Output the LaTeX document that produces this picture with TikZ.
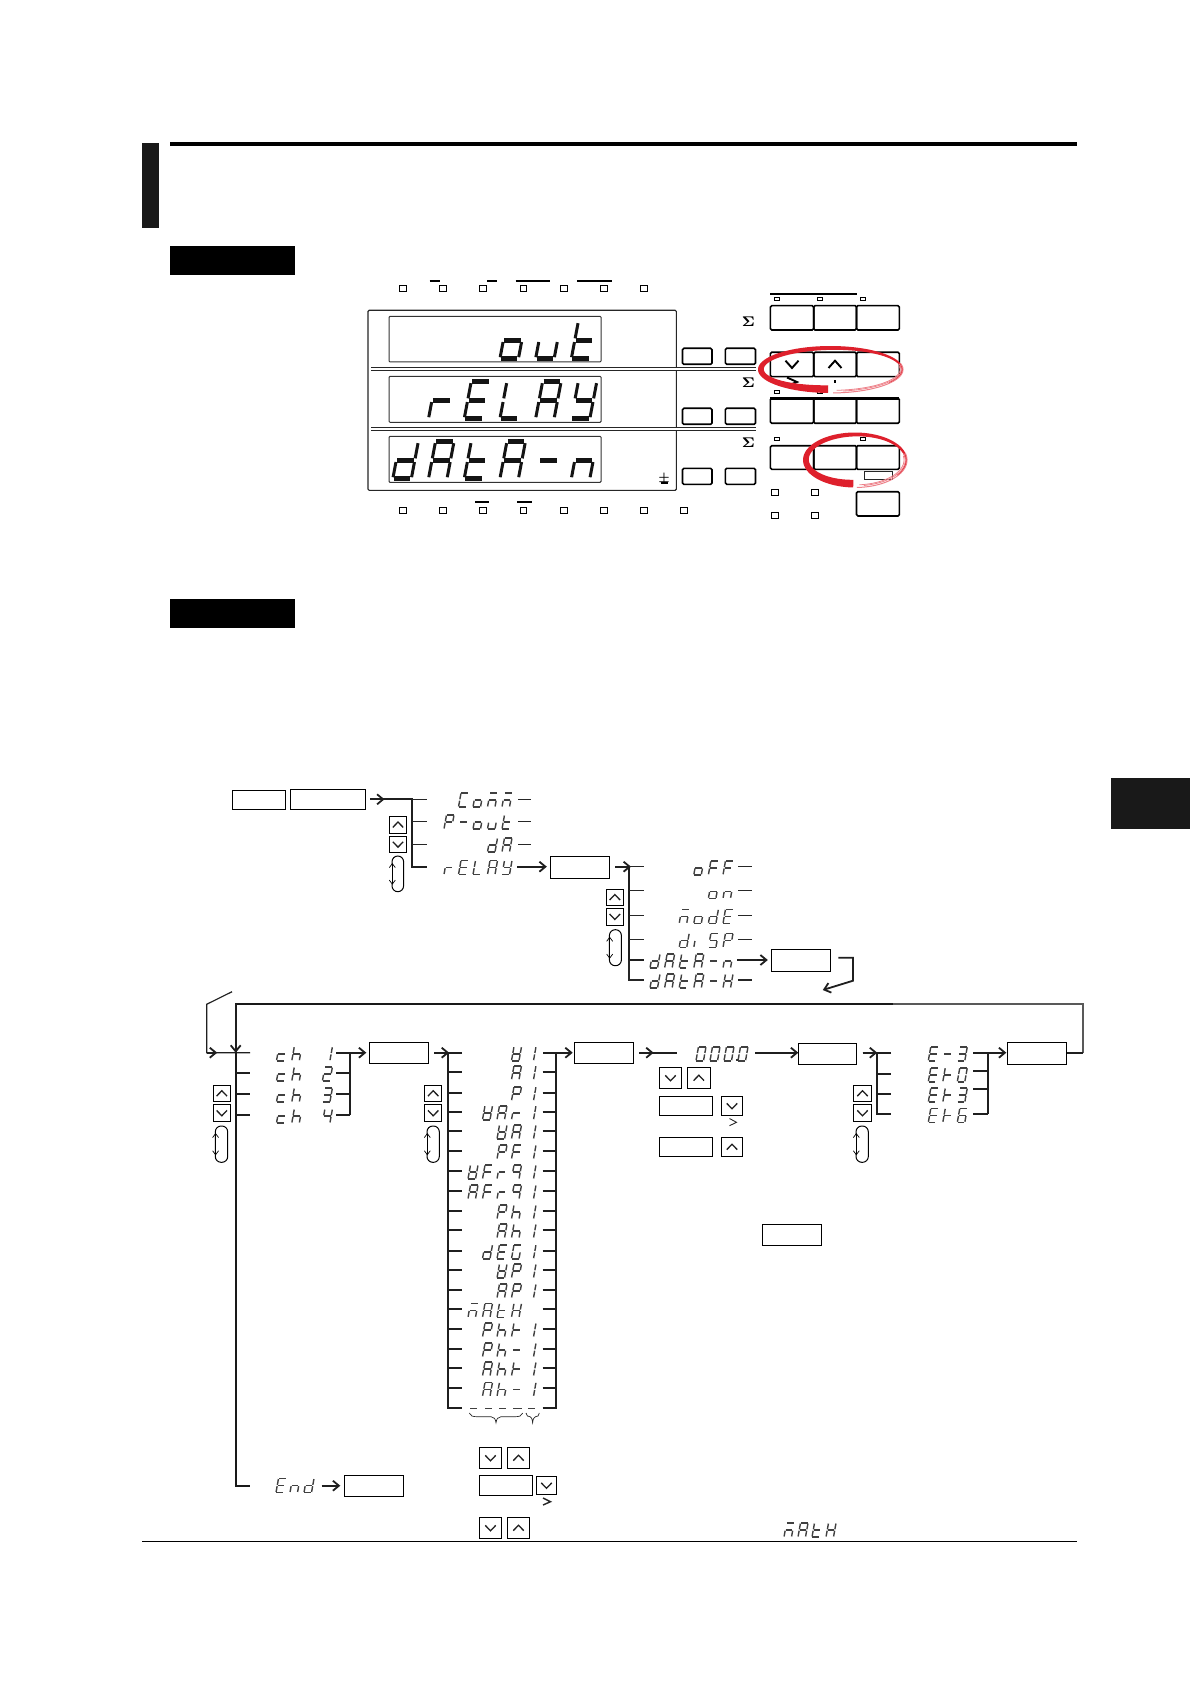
\documentclass[tikz,border=0pt]{standalone}
\usetikzlibrary{arrows.meta}
% ---------- seven-segment glyphs ----------
\newcommand\segdraw[5]{\draw[line width=#5,color=\segcol] ({\cx+#1*\sw+#2*\ss},{\cy-#2*\sh}) -- ({\cx+#3*\sw+#4*\ss},{\cy-#4*\sh});}
\def\sega{\segdraw{.05}{1}{.95}{1}{\lh}}
\def\segb{\segdraw{1}{.96}{1}{.55}{\lv}}
\def\segc{\segdraw{1}{.45}{1}{.04}{\lv}}
\def\segd{\segdraw{.05}{0}{.95}{0}{\lh}}
\def\sege{\segdraw{0}{.04}{0}{.45}{\lv}}
\def\segf{\segdraw{0}{.55}{0}{.96}{\lv}}
\def\segg{\segdraw{.05}{.5}{.95}{.5}{\lh}}
\def\segx{}
\newcommand\gl[2]{\expandafter\def\csname glyph#1\endcsname{#2}}
\gl{:}{x}\gl{-}{g}
\gl{A}{a,b,c,e,f,g}\gl{C}{a,d,e,f}\gl{E}{a,d,e,f,g}\gl{F}{a,e,f,g}\gl{G}{a,c,d,e,f}
\gl{H}{b,c,e,f,g}\gl{L}{d,e,f}\gl{M}{a,c,e,g}\gl{P}{a,b,e,f,g}\gl{S}{a,c,d,f,g}
\gl{T}{e,f,g}\gl{V}{b,c,d,e,f,g}\gl{Y}{b,c,d,f,g}
\gl{c}{d,e,g}\gl{d}{b,c,d,e,g}\gl{h}{c,e,f,g}\gl{i}{e}\gl{n}{c,e,g}\gl{o}{c,d,e,g}
\gl{q}{a,b,c,f,g}\gl{r}{e,g}\gl{t}{d,e,f,g}\gl{u}{c,d,e}
\gl{0}{a,b,c,d,e,f}\gl{1}{b,c}\gl{2}{a,b,d,e,g}\gl{3}{a,b,c,d,g}\gl{4}{b,c,f,g}\gl{6}{a,c,d,e,f,g}
% left of first cell, bottom, pitch, chars
\newcommand\SegT[4]{\foreach \ch [count=\ci from 0] in {#4}{%
  \pgfmathsetmacro\cx{#1+\ci*#3}\def\cy{#2}%
  \expandafter\let\expandafter\curlist\csname glyph\ch\endcsname
  \foreach \s in \curlist {\csname seg\s\endcsname}}}
\newcommand\smallseg{\def\sw{7.5}\def\ss{2.5}\def\sh{14}\def\lh{.8pt}\def\lv{.7pt}\def\segcol{black!75}}
\newcommand\lcdseg{\def\sw{18.5}\def\ss{7}\def\sh{37}\def\lh{2.4pt}\def\lv{1.5pt}\def\segcol{black!92}}
% ---------- helpers ----------
\newcommand\bx[6][box]{\node[#1,minimum width={(#5-#3)*.5pt},minimum height={(#6-#4)*.5pt}] (#2) at ({(#3+#5)/2},{(#4+#6)/2}) {};}
\newcommand\kup[5]{\bx{#1}{#2}{#3}{#4}{#5}\draw[chev] ([shift={(-2.6pt,-1.3pt)}]#1.center) -- ([shift={(0pt,1.4pt)}]#1.center) -- ([shift={(2.6pt,-1.3pt)}]#1.center);}
\newcommand\kdn[5]{\bx{#1}{#2}{#3}{#4}{#5}\draw[chev] ([shift={(-2.6pt,1.3pt)}]#1.center) -- ([shift={(0pt,-1.4pt)}]#1.center) -- ([shift={(2.6pt,1.3pt)}]#1.center);}
\newcommand\ovl[5]{\bx[ovalbox]{#1}{#2}{#3}{#4}{#5}
  \draw[white,line width=.9pt] ({#2+.3},{#3+8}) -- ({#2+.3},{#5-8});
  \draw[dbl] ({#2+.3},{#3+7}) -- ({#2+.3},{#5-7});}
\newcommand\led[2]{\draw[ledstyle] ({#1-3.3},{#2-3}) rectangle ({#1+3.3},{#2+3});}
\newcommand\sled[2]{\draw[ledstyle] ({#1-2.8},{#2-1.8}) rectangle ({#1+2.8},{#2+1.8});}
\newcommand\redring[5]{% cx cy a b thickness
  \fill[ringred] plot[domain=92:395,samples=90] ({#1+#3*cos(\x)},{#2+#4*sin(\x)})
    -- plot[domain=395:92,samples=90] ({#1+(#3-1.2-#5*(395-\x)/303)*cos(\x)},{#2+(#4-1.2-#5*(395-\x)/303)*sin(\x)}) -- cycle;
  \draw[ringpink,line width=.5pt] plot[domain=345:448,samples=30] ({#1+(#3)*cos(\x)},{#2+(#4)*sin(\x)});
  \draw[ringpink,line width=.4pt] plot[domain=345:440,samples=30] ({#1+(#3-1.6)*cos(\x)},{#2+(#4-1.6)*sin(\x)});
  \draw[ringpink,line width=.4pt] plot[domain=350:445,samples=30] ({#1+(#3-3)*cos(\x)},{#2+(#4-2.6)*sin(\x)});}
\definecolor{ringred}{RGB}{222,32,44}
\definecolor{ringpink}{RGB}{238,130,138}
\tikzset{
  box/.style={draw=black,line width=.5pt,inner sep=0pt,outer sep=0pt,fill=white},
  ovalbox/.style={box,rounded corners=2.9pt},
  chev/.style={line width=.65pt,black!88},
  dbl/.style={line width=.35pt,{Straight Barb[length=2pt,width=3pt]}-{Straight Barb[length=2pt,width=3pt]}},
  conn/.style={line width=.9pt,black!88},
  thinc/.style={line width=.55pt,black!85},
  arr/.style={conn,-{Straight Barb[length=3pt,width=5pt]}},
  ledstyle/.style={draw=black,line width=.45pt},
  pbtn/.style={draw=black,line width=.8pt,rounded corners=.7pt,inner sep=0pt,outer sep=0pt},
  lcd/.style={draw=black!80,line width=.5pt,rounded corners=.5pt,inner sep=0pt,outer sep=0pt},
  panelb/.style={draw=black!85,line width=.55pt,rounded corners=.6pt,inner sep=0pt,outer sep=0pt},
  sharpb/.style={draw=black!85,line width=.5pt,inner sep=0pt,outer sep=0pt},
  dline/.style={double=white,double distance=.9pt,line width=.4pt,black!85},
  sigma/.style={inner sep=0pt,font=\fontsize{7.5}{8}\selectfont\boldmath},
}
\begin{document}
\begin{tikzpicture}[x=.5pt,y=-.5pt]
\useasboundingbox (0,0) rectangle (1190,1684);
\fill[white] (0,0) rectangle (1190,1684);
% ---------- page furniture ----------
\fill[black!90] (142,143.3) rectangle (159,228);
\fill[black] (170,142) rectangle (1077,146);
\fill[black] (170,246) rectangle (295,275);
\fill[black] (170,599) rectangle (295,628);
\fill[black!90] (1110.5,777.6) rectangle (1190,829);
\draw[black,line width=.55pt] (142,1541.3) -- (1077,1541.3);
% ---------- instrument panel ----------
\foreach \x in {403,443,483,523.4,564,604,644} {\led{\x}{288.7}}
\foreach \a/\b in {429.5/439.7,487/497,515.7/550,577/612} {\draw[black,line width=.9pt] (\a,280.7) -- (\b,280.7);}
\bx[panelb]{panel}{368}{310.3}{676.4}{490.3}
\bx[lcd]{lcdA}{389}{316.3}{601}{362}
\bx[lcd]{lcdB}{389}{376.3}{601}{422.3}
\bx[lcd]{lcdC}{389}{436.3}{601}{482.3}
\lcdseg
\SegT{392.8}{358.7}{35.7}{:,:,:,o,u,t}
\SegT{392.8}{418.7}{35.7}{:,r,E,L,A,Y}
\SegT{392.8}{478.7}{35.7}{d,A,t,A,-,n}
\draw[dline] (371,369) -- (755.5,369);
\draw[dline] (371,429) -- (755.5,429);
\foreach \y [count=\k] in {348.3,408.3,468.3} {
  \bx[pbtn]{pa\k}{682.5}{\y}{712}{\y+16}
  \bx[pbtn]{pb\k}{725.4}{\y}{755.5}{\y+16}
}
\node[sigma] (sgA) at (748.4,322) {$\Sigma$};
\node[sigma] (sgB) at (748.4,383) {$\Sigma$};
\node[sigma] (sgC) at (748.4,443) {$\Sigma$};
\node[inner sep=0pt,font=\fontsize{5}{6}\selectfont\boldmath] (pm) at (664,478.7) {$\pm$};
\draw[black,line width=.8pt] (660.5,482.8) -- (667.5,482.8);
\draw[black,line width=.9pt] (770.3,293.7) -- (856.5,293.7);
\foreach \x in {777,820,863} {\sled{\x}{299}}
\sled{777}{392}\sled{820}{392}
\sled{777}{439}\sled{863}{439}
\foreach \ya/\yb [count=\k] in {305.7/330,352.3/376.7,398.3/423.3,445.7/469.3} {
  \bx[pbtn]{ka\k}{770.3}{\ya}{813.7}{\yb}
  \bx[pbtn]{kb\k}{813.7}{\ya}{856.5}{\yb}
  \bx[pbtn]{kc\k}{856.5}{\ya}{899.4}{\yb}
}
\draw[black,line width=1.7pt] (770.3,398.3) -- (899.4,398.3);
\bx[pbtn]{kbig}{856.5}{491.7}{899.4}{516}
\bx[sharpb]{ksm}{864.7}{471.7}{892.8}{479.3}
\led{775}{492.3}\led{815}{492.3}\led{775}{515}\led{815}{515}
\foreach \x in {403,443,483,523.4,564,604,644,684} {\led{\x}{510.3}}
\foreach \a/\b in {475/489,517/531.6} {\draw[black,line width=.9pt] (\a,501.7) -- (\b,501.7);}
\draw[line width=.95pt,black] (785.5,360.7) -- (792,368) -- (798.5,360.7);
\draw[line width=.95pt,black] (828.5,368) -- (835,360.7) -- (841.5,368);
\draw[line width=.95pt,black] (787,377.5) -- (797,382) -- (787,386);
\fill[black] (833.6,380.5) rectangle (836.4,383.5);
\redring{830.5}{369.5}{72.5}{23.5}{6.5}
\redring{855}{460}{52}{27.5}{6.5}
% ---------- first menu ----------
\bx{mA}{232}{790}{285.7}{809.3}
\bx{mB}{290.6}{789}{365.6}{809.3}
\coordinate (tr1a) at (411.6,799.3);
\coordinate (tr1b) at (411.6,866.7);
\draw[conn] ([xshift=2.2pt]mB.east |- tr1a) -- (tr1a) -- (tr1b) -- (427,866.7);
\draw[arr] ([xshift=2.2pt]mB.east |- tr1a) -- ++(14.5,0);
\foreach \y in {799.3,821.3,844.3} {\draw[thinc] (411.6,\y) -- (426.8,\y);}
\foreach \y in {799.3,821.3,844.3} {\draw[thinc] (518,\y) -- (531,\y);}
\kup{upA}{389.3}{816.3}{406.7}{833.3}
\kdn{dnA}{389.3}{836}{406.7}{852.7}
\ovl{ovA}{392}{856}{403.6}{891.7}
\smallseg
\SegT{444}{807}{14.5}{:,C,o,M,M}
\SegT{444}{829}{14.5}{P,-,o,u,t}
\SegT{444}{852}{14.5}{:,:,:,d,A}
\SegT{444}{874.5}{14.5}{r,E,L,A,Y}
\coordinate (lbRelay) at (517,866.7);
\bx{bRelay}{550.4}{856.3}{609.4}{878.7}
\draw[arr,shorten >=1.8pt] (lbRelay) -- (bRelay.west |- lbRelay);
% ---------- second menu ----------
\coordinate (tr2a) at (629,866.7);
\coordinate (tr2b) at (629,960);
\coordinate (tr2c) at (629,980);
\draw[conn] ([xshift=2.8pt]bRelay.east |- tr2a) -- (tr2a) -- (tr2b) -- (644,960);
\draw[arr] ([xshift=2.8pt]bRelay.east |- tr2a) -- ++(16,0);
\draw[thinc] (tr2b) -- (tr2c) -- (644,980);
\foreach \y in {866.7,890.3,915.3,939.3} {\draw[thinc] (629,\y) -- (644,\y);}
\foreach \y in {866.7,890.3,915.3,939.3,980} {\draw[thinc] (738.4,\y) -- (751.8,\y);}
\kup{upB}{606}{889}{623.7}{905.7}
\kdn{dnB}{606}{908.3}{623.7}{925}
\ovl{ovB}{609.4}{929.7}{621.4}{965.7}
\SegT{650}{874.8}{14.6}{:,:,:,o,F,F}
\SegT{650}{898.3}{14.6}{:,:,:,:,o,n}
\SegT{650}{923.3}{14.6}{:,:,M,o,d,E}
\SegT{650}{947.3}{14.6}{:,:,d,i,S,P}
\SegT{650}{968}{14.6}{d,A,t,A,-,n}
\SegT{650}{988}{14.6}{d,A,t,A,-,H}
\coordinate (lbData) at (737,960);
\bx{bData}{771.4}{949.3}{830.8}{971.7}
\draw[arr,shorten >=1.8pt] (lbData) -- (bData.west |- lbData);
\coordinate (jmpA) at (838.4,957.7);
\coordinate (jmpB) at (853,957.7);
\coordinate (jmpC) at (853,980.7);
\coordinate (jmpD) at (822.8,990);
\draw[arr] (jmpA) -- (jmpB) -- (jmpC) -- (jmpD);
% ---------- loop frame ----------
\coordinate (enA) at (232,991.7);
\coordinate (enB) at (206.7,1004.3);
\coordinate (enC) at (206.7,1052.7);
\coordinate (frTL) at (235.7,1004);
\coordinate (frL) at (235.7,1052.7);
\coordinate (frBL) at (235.7,1485.7);
\coordinate (frEnd) at (250,1485.7);
\coordinate (frTR) at (1083,1004);
\coordinate (frMid) at (893,1004);
\coordinate (frR) at (1083,1052.7);
\draw[line width=.6pt,black!88] (enA) -- (enB) -- (enC) -- (250,1052.7);
\draw[arr] (enC) -- ++(10.5,0);
\draw[line width=1pt,black!65] (frMid) -- (frTR) -- (frR);
\draw[conn] (frR) -- (1066.7,1052.7);
\draw[line width=.8pt,black!90] (frMid) -- (frTL) -- (frBL) -- (frEnd);
\draw[arr] (frTL) -- (frL);
\foreach \y in {1073,1094,1115} {\draw[conn] (235.7,\y) -- (250,\y);}
\kup{upC}{213.3}{1085.3}{230.3}{1101.7}
\kdn{dnC}{213.3}{1104.3}{230.3}{1121.7}
\ovl{ovC}{215.3}{1126}{227.7}{1162.3}
% ---------- channels ----------
\foreach \d/\b in {1/1060.7,2/1081,3/1102,4/1123} {\SegT{276.5}{\b}{15.3}{c,h,:,\d}}
\coordinate (chTop) at (350,1052.7);
\coordinate (chBot) at (350,1115);
\draw[conn] (chBot) -- (chTop);
\foreach \y in {1052.7,1073,1094,1115} {\draw[conn] (336,\y) -- (350,\y);}
\bx{bCh}{369.3}{1042.3}{428.7}{1063.3}
\draw[arr,shorten >=1.5pt] (chTop) -- (bCh.west |- chTop);
% ---------- functions ----------
\coordinate (fnA) at (448.2,1052.7);
\coordinate (fnB) at (448.2,1408.3);
\coordinate (fnC) at (556,1052.7);
\coordinate (fnD) at (556,1408.3);
\draw[conn] (462,1052.7) -- (fnA) -- (fnB) -- (462,1408.3);
\draw[conn] ([xshift=2.7pt]bCh.east |- fnA) -- (fnA);
\draw[arr] ([xshift=2.7pt]bCh.east |- fnA) -- ++(15,0);
\foreach \y in {1071.7,1092.7,1111.7,1131,1151,1171,1191,1211,1230,1250.7,1270,1290,1309.3,1329,1349,1368,1388.3} {
  \draw[conn] (448.2,\y) -- (462,\y);
  \draw[conn] (542.7,\y) -- (556,\y);}
\draw[conn] (542.7,1408.3) -- (fnD) -- (fnC) -- (542.7,1052.7);
\kup{upD}{424.7}{1085.3}{441.7}{1101.7}
\kdn{dnD}{424.7}{1104.3}{441.7}{1121.7}
\ovl{ovD}{427}{1126}{439.3}{1162.3}
\foreach \lst/\b in {{:,:,:,V,1}/1060.7,{:,:,:,A,1}/1079.7,{:,:,:,P,1}/1100.7,{:,V,A,r,1}/1119.7,{:,:,V,A,1}/1139,{:,:,P,F,1}/1159,{V,F,r,q,1}/1179,{A,F,r,q,1}/1199,{:,:,P,h,1}/1219,{:,:,A,h,1}/1238,{:,d,E,G,1}/1258.7,{:,:,V,P,1}/1278,{:,:,A,P,1}/1298,{M,A,t,H,:}/1317.3,{:,P,h,T,1}/1337,{:,P,h,-,1}/1357,{:,A,h,T,1}/1376,{:,A,h,-,1}/1396.3} {
  \edef\tmp{\noexpand\SegT{468}{\b}{14.5}{\lst}}\tmp}
\foreach \a/\b in {470/477.3,485/491.7,499.3/506,513.3/521.7,528.3/535} {\draw[line width=.6pt,black!75] (\a,1408.3) -- (\b,1408.3);}
\draw[line width=.35pt,black!85] (469.3,1413) .. controls (470,1416) and (473,1416.7) .. (477,1416.7) -- (491,1416.7) .. controls (494,1416.7) and (495.5,1419) .. (496,1422.7) .. controls (496.5,1419) and (498,1416.7) .. (501,1416.7) -- (515,1416.7) .. controls (519,1416.7) and (522,1416) .. (522.7,1413);
\draw[line width=.35pt,black!85] (526,1413) .. controls (526.5,1416) and (528,1416.7) .. (530,1416.7) .. controls (531.5,1417) and (532.2,1419) .. (532.6,1422.7) .. controls (533,1419) and (534,1417) .. (535.5,1416.7) .. controls (537.5,1416.7) and (539,1416) .. (539.3,1413);
\kdn{kpA}{479.3}{1447.3}{501.7}{1468.7}
\kup{kpB}{507.3}{1447.3}{529.7}{1468.7}
\bx{kpC}{479.3}{1475.3}{532.7}{1495.3}
\kdn{kpD}{536.3}{1476.3}{556.7}{1494.7}
\draw[line width=.7pt,black!85] (543,1498) -- (550.5,1501.7) -- (543,1505);
\kdn{kpE}{479.3}{1517.3}{501.7}{1538.7}
\kup{kpF}{507.3}{1517.3}{529.7}{1538.7}
\SegT{276}{1492.5}{14}{E,n,d}
\coordinate (lbEnd) at (321.7,1485.7);
\bx{bEnd}{344.3}{1475.3}{403.7}{1496.7}
\draw[arr,shorten >=2pt] (lbEnd) -- (bEnd.west |- lbEnd);
\SegT{784}{1537}{14}{M,A,t,H}
% ---------- value ----------
\bx{bFn}{574.3}{1042.3}{633.7}{1063.3}
\draw[arr,shorten >=.8pt] (fnC) -- (bFn.west |- fnC);
\coordinate (valIn) at (677.3,1052.7);
\draw[conn] ([xshift=2.7pt]bFn.east |- valIn) -- (valIn);
\draw[arr] ([xshift=2.7pt]bFn.east |- valIn) -- ++(14.5,0);
\SegT{696}{1060.7}{14}{0,0,0,0}
\fill[black!80] (735.8,1059) rectangle (738,1061.2);
\coordinate (valOut) at (755.3,1052.7);
\bx{bVal}{798.3}{1043.3}{856.7}{1064.3}
\draw[arr] (valOut) -- (bVal.west |- valOut);
\kdn{vkA}{659.3}{1067.3}{681.7}{1088.7}
\kup{vkB}{687.3}{1067.3}{710.3}{1088.7}
\bx{vkC}{659.3}{1096.3}{712.7}{1115.7}
\kdn{vkD}{721.3}{1096.3}{742.7}{1115.7}
\draw[line width=.45pt,black!85] (729.5,1118.5) -- (736.5,1122.3) -- (729.5,1125.7);
\bx{vkE}{659.3}{1137.3}{712.7}{1156.7}
\kup{vkF}{721.3}{1137.3}{742.7}{1156.7}
\bx{bSet}{762.3}{1224.3}{821.7}{1245.7}
% ---------- exponent ----------
\coordinate (exA) at (877,1052.7);
\coordinate (exB) at (877,1114.3);
\draw[conn] (891,1052.7) -- (exA) -- (exB) -- (891,1114.3);
\draw[conn] ([xshift=3pt]bVal.east |- exA) -- (exA);
\draw[arr] ([xshift=3pt]bVal.east |- exA) -- ++(14.5,0);
\foreach \y in {1073.7,1094} {\draw[conn] (877,\y) -- (891,\y);}
\kup{upE}{853.3}{1085.3}{871.7}{1101.7}
\kdn{dnE}{853.3}{1104.3}{871.7}{1121.7}
\ovl{ovE}{856}{1126}{868.3}{1162.3}
\SegT{928.3}{1060.7}{14.5}{E,-,3}
\SegT{928.3}{1081.7}{14.5}{E,T,0}
\SegT{928.3}{1102}{14.5}{E,T,3}
\SegT{928.3}{1122.3}{14.5}{E,T,6}
\coordinate (exC) at (988.3,1052.7);
\coordinate (exD) at (988.3,1114.3);
\draw[conn] (exD) -- (exC);
\foreach \y in {1052.7,1071.3,1089.3,1114.3} {\draw[conn] (973.3,\y) -- (988.3,\y);}
\bx{bExp}{1007.3}{1042.3}{1066.7}{1064.3}
\draw[arr,shorten >=.5pt] (exC) -- (bExp.west |- exC);
\end{tikzpicture}
\end{document}
